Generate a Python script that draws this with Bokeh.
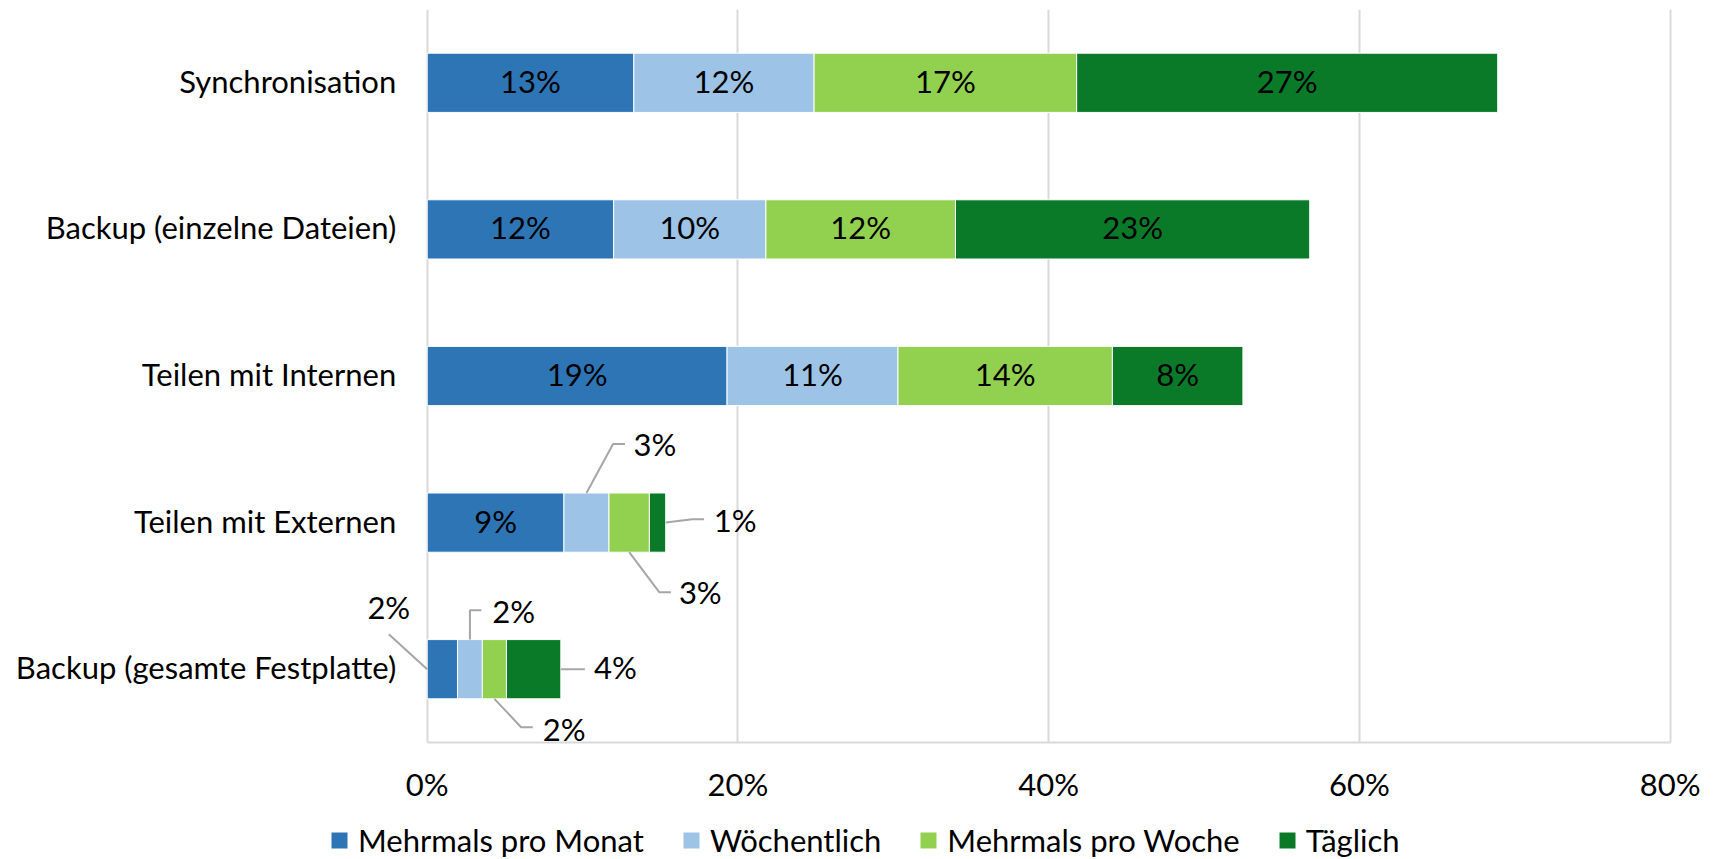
from bokeh.plotting import figure
from bokeh.layouts import column
from bokeh.models import (ColumnDataSource, FixedTicker, PrintfTickFormatter,
                          Legend, LegendItem, Range1d)
from bokeh.embed import file_html
from bokeh.resources import INLINE
from bokeh.core.properties import value

# ---------------- data ----------------
categories = ["Synchronisation", "Backup (einzelne Dateien)", "Teilen mit Internen",
              "Teilen mit Externen", "Backup (gesamte Festplatte)"]
series = ["Mehrmals pro Monat", "Wöchentlich", "Mehrmals pro Woche", "Täglich"]
monat = [13.3, 12.0, 19.3, 8.8, 1.95]
woechentlich = [11.6, 9.8, 11.0, 2.9, 1.6]
woche = [16.9, 12.2, 13.8, 2.6, 1.55]
taeglich = [27.1, 22.8, 8.4, 1.05, 3.5]
x_ticks = [0, 20, 40, 60, 80]

# ---------------- style ----------------
colors = ["#2E75B6", "#9DC3E6", "#92D050", "#0A7A28"]
FONT = "Lato"
FS = "31px"
GRID = "#D9D9D9"
LEADER = "#A6A6A6"
BAR_H = 0.404
TEXT_DY = -2                  # screen-px nudge for texts

W, H = 1719, 859
H_MAIN = 812                  # main figure height; legend strip below
PLOT_L, PLOT_R = 426.7, 1669.7  # pixel extent of the 0..80 % scale
BT = 9
FRAME_BOTTOM = 742
XMAX = 80
PX_X = (PLOT_R - PLOT_L) / XMAX
n = len(categories)
PX_Y = (FRAME_BOTTOM - BT) / n
CAT_STANDOFF = 31

# callouts for small segments: (category, series) -> anchor, path offsets (px), label offset (px), align
callouts = {
    (3, 1): ("top", [(26.6, -49), (38.6, -49)], (47, -47), "left"),
    (3, 3): ("right", [(26.7, -3.4), (38.3, -3.4)], (48, -1), "left"),
    (3, 2): ("bottom", [(30, 40), (41.7, 40)], (49.7, 42), "left"),
    (4, 0): ("left", [(-38.4, -35)], (-38.4, -60), "center"),
    (4, 1): ("top", [(0, -29.3), (11.4, -29.3)], (22.4, -26.7), "left"),
    (4, 2): ("bottom", [(26.7, 28.4), (38.4, 28.4)], (48.4, 31.7), "left"),
    (4, 3): ("right", [(24, 0)], (33.3, 0), "left"),
}

ypos = [n - 1 - i for i in range(n)]
all_series = [monat, woechentlich, woche, taeglich]

p = figure(width=W, height=H_MAIN, output_backend="svg", toolbar_location=None,
           x_range=Range1d(-PLOT_L / PX_X, XMAX + (W - PLOT_R) / PX_X),
           y_range=Range1d(-0.5, n - 0.5), y_axis_location=None,
           min_border_left=0, min_border_right=0, min_border_top=BT,
           min_border_bottom=H_MAIN - FRAME_BOTTOM)
p.outline_line_color = None
p.background_fill_color = "white"

# grid
p.xgrid.ticker = FixedTicker(ticks=x_ticks)
p.xgrid.grid_line_color = GRID
p.xgrid.grid_line_width = 2
p.ygrid.grid_line_color = None

# x axis
p.xaxis.ticker = FixedTicker(ticks=x_ticks)
p.xaxis.bounds = (0, XMAX)
p.xaxis.formatter = PrintfTickFormatter(format="%d%%")
p.xaxis.axis_line_color = GRID
p.xaxis.axis_line_width = 2
p.xaxis.major_tick_line_color = None
p.xaxis.major_tick_out = 0
p.xaxis.major_tick_in = 0
p.xaxis.minor_tick_line_color = None
p.xaxis.major_label_text_font = FONT
p.xaxis.major_label_text_font_size = FS
p.xaxis.major_label_text_color = "black"
p.xaxis.major_label_standoff = 22

# category labels (left of the bars)
p.text(x=[-CAT_STANDOFF / PX_X] * n, y=ypos, text=categories, text_align="right",
       text_baseline="middle", text_font=value(FONT), text_font_size=FS,
       text_color="black", y_offset=TEXT_DY)

# bars
left = [0.0] * n
renderers = []
in_x, in_y, in_t = [], [], []
lead_xs, lead_ys = [], []
out = {"left": ([], [], []), "center": ([], [], [])}
for si, vals in enumerate(all_series):
    right = [l + v for l, v in zip(left, vals)]
    src = ColumnDataSource(dict(y=ypos, left=left, right=right))
    r = p.hbar(y="y", left="left", right="right", height=BAR_H, source=src,
               fill_color=colors[si], line_color="white", line_width=1)
    renderers.append(r)
    for ci in range(n):
        label = f"{int(vals[ci] + 0.5)}%"
        xm = (left[ci] + right[ci]) / 2
        yc = ypos[ci]
        if (ci, si) not in callouts:
            in_x.append(xm); in_y.append(yc); in_t.append(label)
            continue
        anchor, path, loff, align = callouts[(ci, si)]
        if anchor == "top":
            ax, ay = xm, yc + BAR_H / 2
        elif anchor == "bottom":
            ax, ay = xm, yc - BAR_H / 2
        elif anchor == "right":
            ax, ay = right[ci], yc
        else:
            ax, ay = left[ci], yc
        lead_xs.append([ax] + [ax + dx / PX_X for dx, dy in path])
        lead_ys.append([ay] + [ay - dy / PX_Y for dx, dy in path])
        ox, oy, ot = out[align]
        ox.append(ax + loff[0] / PX_X); oy.append(ay - loff[1] / PX_Y); ot.append(label)
    left = right

p.multi_line(xs=lead_xs, ys=lead_ys, line_color=LEADER, line_width=2)

p.text(x=in_x, y=in_y, text=in_t, text_align="center", text_baseline="middle",
       text_font=value(FONT), text_font_size=FS, text_color="black", y_offset=TEXT_DY)
for align, (ox, oy, ot) in out.items():
    p.text(x=ox, y=oy, text=ot, text_align=align, text_baseline="middle",
           text_font=value(FONT), text_font_size=FS, text_color="black", y_offset=TEXT_DY)

# ---------------- legend strip ----------------
H_LEG = H - H_MAIN
pl = figure(width=W, height=H_LEG, output_backend="svg", toolbar_location=None,
            x_range=Range1d(0, W), y_range=Range1d(0, H_LEG),
            x_axis_location=None, y_axis_location=None,
            min_border_left=0, min_border_right=0, min_border_top=0, min_border_bottom=0)
pl.outline_line_color = None
pl.xgrid.grid_line_color = None
pl.ygrid.grid_line_color = None
# swatch renderers for the legend (their single bar lies outside the visible range)
leg_renderers = [pl.hbar(y=[-10 * H_LEG], left=[0], right=[1], height=1,
                         fill_color=c, line_color=None) for c in colors]
legend = Legend(items=[LegendItem(label=s, renderers=[r]) for s, r in zip(series, leg_renderers)],
                orientation="horizontal", location=(329, 0),
                label_text_font=FONT, label_text_font_size=FS, label_text_color="black",
                glyph_width=20, glyph_height=20, label_standoff=9, spacing=37,
                padding=0, margin=0, border_line_color=None, background_fill_alpha=0)
pl.add_layout(legend, "center")

html = file_html(column(p, pl, spacing=0), INLINE)
open("out.html", "w").write(html)
